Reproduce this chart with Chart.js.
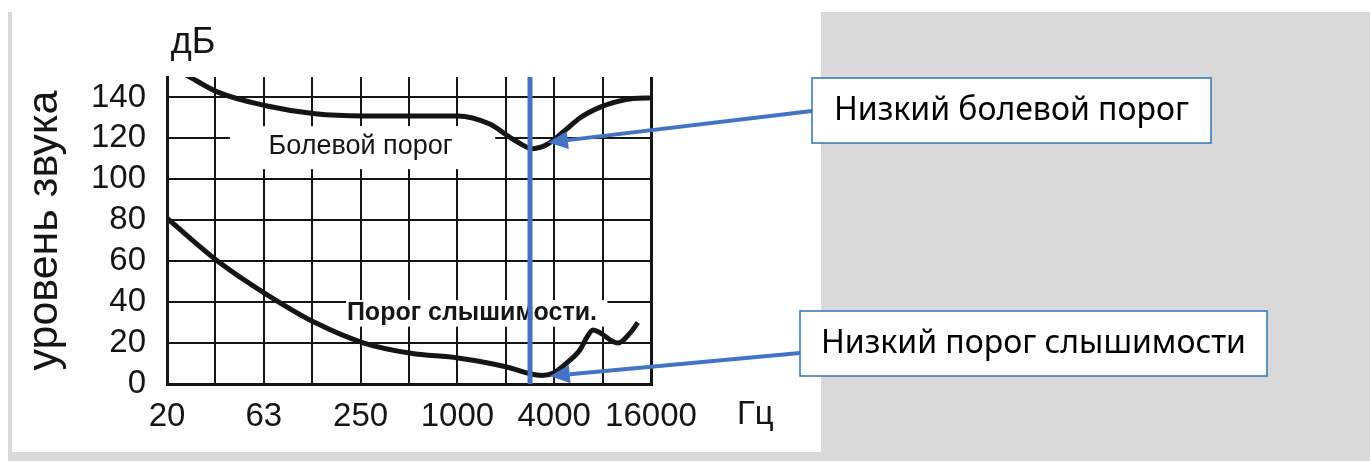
<!DOCTYPE html>
<html>
<head>
<meta charset="utf-8">
<script src="https://cdn.jsdelivr.net/npm/chart.js@4"></script>
<style>
  html, body { margin: 0; padding: 0; background: #fff; }
  #page { position: relative; width: 1370px; height: 461px; overflow: hidden; background: #fff; }
  #slide { position: absolute; left: 8px; top: 12px; right: 0; bottom: 0; background: #d9d9d9; }
  #photo { position: absolute; left: 12px; top: 0; width: 809px; height: 452px; background: #fff; }
  #wrap { position: absolute; left: 0; top: 0; width: 1370px; height: 461px; }
</style>
</head>
<body>
<div id="page">
  <div id="slide"></div>
  <div id="photo"></div>
  <div id="wrap"><canvas id="myChart"></canvas></div>
</div>
<script>
let chartEl = document.getElementById('myChart')

// octave bands, only every second one is labelled
let bandLabels = ['20', '', '63', '', '250', '', '1000', '', '4000', '', '16000']
let dbLabels = [0, 20, 40, 60, 80, 100, 120, 140]

// pain threshold (x = band index)
let painX = [0.4, 1.05, 2.07, 3.06, 4.07, 5.0, 6.0, 6.67, 7.15, 7.56, 7.85, 8.18, 8.53, 8.95, 9.3, 9.63, 10]
let painDb = [151, 142.6, 135.8, 132, 131, 131, 131, 127, 119.6, 115, 117, 123, 130, 135.3, 138, 139.5, 139.8]

// hearing threshold
let hearX = [0, 1.05, 2.07, 3.06, 4.07, 5.04, 6.01, 7.02, 7.5, 7.75, 8.0, 8.26, 8.53, 8.68, 8.8, 8.95, 9.22, 9.32, 9.57, 9.73]
let hearDb = [81, 60, 43.6, 30, 20, 15, 12.7, 8.3, 5, 4.2, 5.5, 10.3, 16.6, 23, 26.4, 25, 20.6, 20, 25, 30]

let markBand = 7.5
let painArrowAt = [7.87, 118]
let hearArrowAt = [7.91, 3.9]

let blue = '#4472c4'
let ink = '#151515'

function toPoints(xs, ys) {
    return xs.map(function(x, i) { return { x: x, y: ys[i] } })
}

function arrow(ctx, x1, y1, x2, y2) {
    let ang = Math.atan2(y2 - y1, x2 - x1)
    let len = 20
    let bx = x2 - Math.cos(ang) * len
    let by = y2 - Math.sin(ang) * len
    ctx.strokeStyle = blue
    ctx.fillStyle = blue
    ctx.lineWidth = 4
    ctx.beginPath()
    ctx.moveTo(x1, y1)
    ctx.lineTo(bx, by)
    ctx.stroke()
    ctx.beginPath()
    ctx.moveTo(x2, y2)
    ctx.lineTo(bx + Math.sin(ang) * 9, by - Math.cos(ang) * 9)
    ctx.lineTo(bx - Math.sin(ang) * 9, by + Math.cos(ang) * 9)
    ctx.closePath()
    ctx.fill()
}

function callout(ctx, left, top, right, bottom, text) {
    ctx.fillStyle = '#fff'
    ctx.fillRect(left, top, right - left, bottom - top)
    ctx.strokeStyle = '#2e75b6'
    ctx.lineWidth = 1.5
    ctx.strokeRect(left, top, right - left, bottom - top)
    ctx.fillStyle = '#000'
    ctx.font = '32px "Noto Sans"'
    ctx.textAlign = 'center'
    ctx.textBaseline = 'middle'
    ctx.fillText(text, (left + right) / 2, (top + bottom) / 2)
}

let notes = {
    id: 'notes',
    beforeDatasetsDraw(chart) {
        let ctx = chart.ctx
        let x = chart.scales.x
        let y = chart.scales.y
        ctx.save()
        // white patches behind the curve names
        ctx.fillStyle = '#fff'
        ctx.fillRect(x.getPixelForValue(1.3), y.getPixelForValue(126), x.getPixelForValue(6.78) - x.getPixelForValue(1.3), y.getPixelForValue(105) - y.getPixelForValue(126))
        ctx.fillRect(x.getPixelForValue(3.7), y.getPixelForValue(41), x.getPixelForValue(9.1) - x.getPixelForValue(3.7), y.getPixelForValue(28) - y.getPixelForValue(41))
        ctx.fillStyle = ink
        ctx.textAlign = 'center'
        ctx.textBaseline = 'middle'
        ctx.font = '27px "Liberation Sans"'
        ctx.fillText('Болевой порог', x.getPixelForValue(4.0), y.getPixelForValue(116))
        ctx.font = 'bold 25px "Liberation Sans"'
        ctx.fillText('Порог слышимости.', x.getPixelForValue(6.3), y.getPixelForValue(34.7))
        ctx.restore()
    },
    afterDatasetsDraw(chart) {
        let ctx = chart.ctx
        let x = chart.scales.x
        let y = chart.scales.y
        let area = chart.chartArea
        ctx.save()
        ctx.strokeStyle = blue
        ctx.lineWidth = 5
        ctx.beginPath()
        ctx.moveTo(x.getPixelForValue(markBand), area.top)
        ctx.lineTo(x.getPixelForValue(markBand), area.bottom)
        ctx.stroke()

        arrow(ctx, 812, 111, x.getPixelForValue(painArrowAt[0]), y.getPixelForValue(painArrowAt[1]))
        arrow(ctx, 800, 353, x.getPixelForValue(hearArrowAt[0]), y.getPixelForValue(hearArrowAt[1]))

        callout(ctx, 812, 78, 1211, 143, 'Низкий болевой порог')
        callout(ctx, 800, 311, 1267, 376, 'Низкий порог слышимости')

        ctx.fillStyle = ink
        ctx.textAlign = 'center'
        ctx.textBaseline = 'middle'
        ctx.font = '36px "Liberation Sans"'
        ctx.fillText('дБ', area.left + 26, 43)
        ctx.textAlign = 'left'
        ctx.font = '33px "Liberation Sans"'
        ctx.fillText('Гц', area.right + 86, 415)
        ctx.restore()
    }
}

let gridWidth = function(ctx) {
    if (!ctx.tick) return 2
    let v = ctx.tick.value
    return (v === ctx.scale.min || v === ctx.scale.max) ? 3 : 2
}

let chart = new Chart(chartEl, {
    type: 'line',
    data: {
        datasets: [{
                label: 'Болевой порог',
                data: toPoints(painX, painDb),
                borderColor: ink,
                borderWidth: 5,
                pointRadius: 0,
                cubicInterpolationMode: 'monotone'
            },
            {
                label: 'Порог слышимости',
                data: toPoints(hearX, hearDb),
                borderColor: ink,
                borderWidth: 5,
                pointRadius: 0,
                cubicInterpolationMode: 'monotone'
            }
        ]
    },
    options: {
        responsive: true,
        maintainAspectRatio: false,
        animation: false,
        layout: { padding: { left: 8, top: 77, right: 719, bottom: 10 } },
        plugins: {
            legend: { display: false },
            tooltip: { enabled: false }
        },
        scales: {
            x: {
                type: 'linear',
                min: 0,
                max: 10,
                afterFit: function(s) { s.height = 67 },
                grid: { color: ink, lineWidth: gridWidth, drawTicks: false },
                border: { display: true, color: ink, width: 3 },
                ticks: {
                    stepSize: 1,
                    autoSkip: false,
                    maxRotation: 0,
                    padding: 13,
                    color: ink,
                    font: { family: 'Liberation Sans', size: 33 },
                    callback: function(v) { return bandLabels[v] }
                }
            },
            y: {
                min: 0,
                max: 150,
                afterFit: function(s) { s.width = 159 },
                grid: { color: ink, lineWidth: gridWidth, drawTicks: false },
                border: { display: true, color: ink, width: 3 },
                ticks: {
                    stepSize: 10,
                    padding: 21,
                    color: ink,
                    font: { family: 'Liberation Sans', size: 33 },
                    callback: function(v) { return dbLabels.includes(v) ? String(v) : '' }
                },
                title: {
                    display: true,
                    text: 'уровень звука',
                    color: ink,
                    font: { family: 'Liberation Sans', size: 43 },
                    padding: { top: 11, bottom: 0 }
                }
            }
        }
    },
    plugins: [notes]
})
</script>
</body>
</html>
